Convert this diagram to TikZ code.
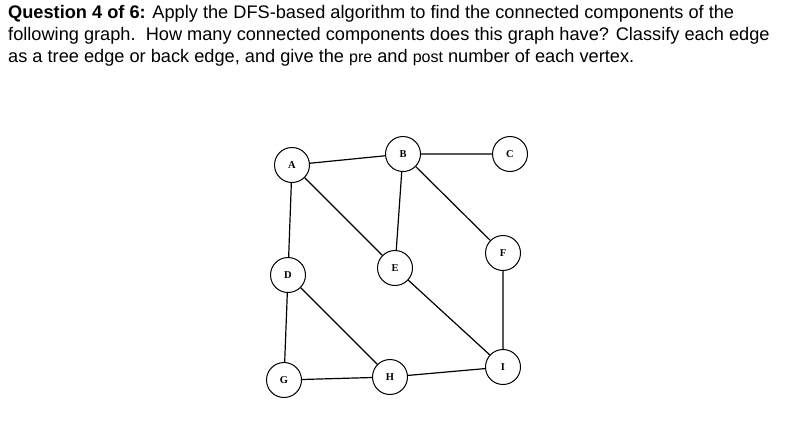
\documentclass[tikz,border=0pt]{standalone}
\usepackage{fontspec}
\setmainfont{Liberation Sans}
\newfontfamily\vfont{Liberation Serif}
\begin{document}
\begin{tikzpicture}[x=1pt,y=-1pt,
  v/.style={circle,draw,line width=1pt,minimum size=35pt,inner sep=0pt,font=\vfont\bfseries\fontsize{10.5}{10.5}\selectfont},
  e/.style={line width=1.2pt},
  q/.style={anchor=base west,inner sep=0pt,font=\fontsize{18.2}{20}\selectfont}]
\useasboundingbox (0,0) rectangle (795,424);
\node[q] (l1) at (8,18) {\textbf{Question 4 of 6:} Apply the DFS-based algorithm to find the connected components of the};
\node[q] (l2) at (8,40) {following graph.\ \ How many connected components does this graph have? Classify each edge};
\node[q] (l3) at (8,62) {as a tree edge or back edge, and give the {\fontsize{16}{18}\selectfont pre} and {\fontsize{16}{18}\selectfont post} number of each vertex.};
\node[v] (A) at (292,165) {A};
\node[v] (B) at (403,154) {B};
\node[v] (C) at (510,154) {C};
\node[v] (D) at (288,275) {D};
\node[v] (E) at (395,268) {E};
\node[v] (F) at (503,253) {F};
\node[v] (G) at (284,380) {G};
\node[v] (H) at (390,377) {H};
\node[v] (I) at (503,367) {I};
\draw[e] (A)--(B) (B)--(C) (A)--(E) (B)--(E) (B)--(F) (A)--(D) (D)--(G) (D)--(H) (G)--(H) (E)--(I) (F)--(I) (H)--(I);
\end{tikzpicture}
\end{document}
